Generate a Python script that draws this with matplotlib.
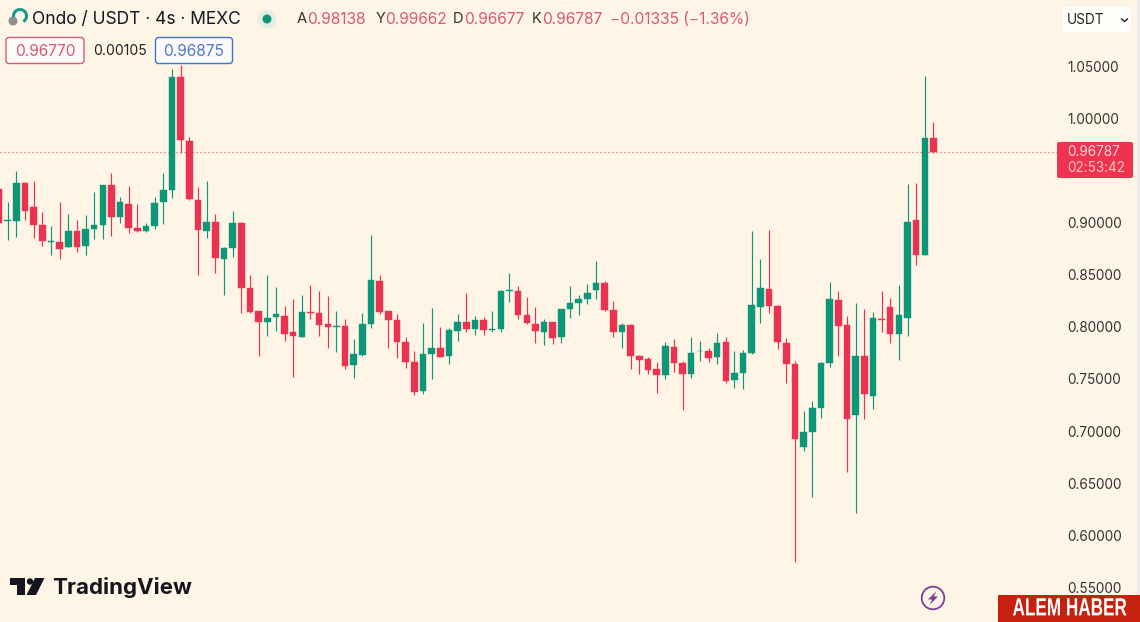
import matplotlib
matplotlib.use('Agg')
import matplotlib.pyplot as plt
from matplotlib.patches import Rectangle, FancyBboxPatch, Circle, Polygon, Arc
from matplotlib.patheffects import AbstractPathEffect
from matplotlib.transforms import Affine2D

W, H = 1140, 622

opens = [.9318,.9010,.9014,.9375,.9145,.8976,.8812,.8816,.8768,.8918,.8774,.8934,.8972,.9356,.9049,.9177,.8944,.8921,.8969,.9196,
         .9308,1.0392,.9778,.9215,.8921,.9008,.8653,.8752,.8998,.8375,.8151,.8046,.8097,.8100,.7950,.7905,.8139,.8129,.8024,.8000,
         .8004,.7631,.7730,.8030,.8442,.8148,.8062,.7854,.7665,.7384,.7742,.7796,.7716,.7956,.8042,.7975,.8065,.7969,.7975,.8346,
         .8343,.8116,.8030,.7950,.8042,.7902,.8167,.8225,.8263,.8352,.8419,.8160,.7953,.8020,.7723,.7688,.7595,.7537,.7806,.7649,
         .7550,.7764,.7767,.7707,.7854,.7492,.7556,.7745,.8190,.8359,.8202,.7847,.7643,.6850,.6988,.7224,.7650,.8257,.8017,.7151,
         .7720,.7336,.8074,.8192,.7931,.8087,.9021,.8691,.98138]
highs = [.9350,.9199,.9497,.9391,.9401,.9097,.8966,.9199,.9081,.9024,.9072,.9295,.9359,.9471,.9247,.9350,.9177,.8998,.9241,.9478,
         1.0471,1.0510,.9816,.9337,.9398,.9078,.8768,.9110,.9008,.8496,.8154,.8496,.8385,.8199,.8263,.8305,.8401,.8346,.8299,.8154,
         .8071,.7883,.8129,.8880,.8496,.8154,.8119,.7899,.7771,.8039,.8177,.7995,.7991,.8122,.8320,.8103,.8091,.8154,.8352,.8512,
         .8391,.8288,.8186,.8074,.8046,.8167,.8394,.8305,.8407,.8627,.8442,.8244,.8039,.8023,.7726,.7713,.7665,.7857,.7883,.7672,
         .7899,.7860,.7800,.7937,.7905,.7771,.7777,.8921,.8646,.8928,.8209,.7892,.7675,.7195,.7291,.7665,.8426,.8343,.8103,.8225,
         .8173,.8144,.8346,.8273,.8400,.9366,.9376,1.0407,.99662]
lows = [.8998,.8832,.8864,.9024,.8848,.8778,.8691,.8647,.8760,.8720,.8688,.8838,.8838,.8870,.8998,.8896,.8912,.8912,.8934,.8985,
        .9231,.9669,.9215,.8496,.8848,.8512,.8305,.8672,.8132,.8136,.7720,.7915,.7960,.7864,.7522,.7902,.8071,.7915,.7800,.7758,
        .7595,.7509,.7720,.7991,.8119,.7800,.7697,.7608,.7346,.7352,.7499,.7707,.7640,.7864,.7947,.7921,.7924,.7947,.7947,.8240,
        .8078,.8030,.7847,.7822,.7838,.7847,.8081,.8116,.8222,.8263,.8154,.7899,.7793,.7595,.7547,.7550,.7362,.7499,.7569,.7202,
        .7512,.7675,.7659,.7643,.7464,.7415,.7400,.7739,.8039,.8129,.7787,.7461,.5747,.6809,.6365,.7128,.7611,.7720,.6610,.6217,
        .7113,.7212,.7953,.7841,.7681,.7914,.8592,.8685,.96677]
closes = [.8998,.9020,.9382,.9113,.8972,.8822,.8820,.8742,.8918,.8765,.8937,.8976,.9359,.9049,.9196,.8944,.8921,.8969,.9183,.9308,
          1.0392,.9791,.9222,.8928,.9008,.8659,.8752,.8992,.8375,.8145,.8049,.8084,.8122,.7934,.7912,.8139,.8132,.8020,.7995,.8004,
          .7627,.7736,.8024,.8445,.8139,.8062,.7851,.7659,.7374,.7742,.7793,.7713,.7966,.8042,.7975,.8065,.7966,.7975,.8339,.8349,
          .8116,.8036,.7956,.8046,.7889,.8167,.8225,.8266,.8320,.8416,.8157,.7953,.8017,.7720,.7685,.7585,.7537,.7816,.7649,.7550,
          .7752,.7771,.7704,.7847,.7483,.7553,.7748,.8209,.8375,.8202,.7851,.7643,.6921,.6988,.7224,.7655,.8266,.8010,.7113,.7720,
          .7352,.8081,.8067,.7931,.8113,.9002,.8691,.9810,.96787]

price_ticks = [1.05, 1.00, 0.90, 0.85, 0.80, 0.75, 0.70, 0.65, 0.60, 0.55]
last_price = 0.96787

BG = '#fff5e6'
GREEN = '#0e9679'
RED = '#ea3350'
plt.rcParams['font.family'] = ['Inter', 'DejaVu Sans']

fig = plt.figure(figsize=(W / 100, H / 100), dpi=100, facecolor=BG)
ax = fig.add_axes([0, 0, 1, 1], facecolor=BG)

idx = list(range(len(opens)))
colors = [GREEN if c >= o else RED for o, c in zip(opens, closes)]
ax.axhline(last_price, xmax=1057 / W, color='#dc6470', lw=0.9, ls=(0, (1, 2.2)), zorder=1)
ax.vlines(idx, lows, highs, colors=colors, lw=0.85, zorder=2)
ax.bar(idx, [abs(c - o) for o, c in zip(opens, closes)], bottom=[min(o, c) for o, c in zip(opens, closes)],
       width=0.76, color=colors, edgecolor=colors, linewidth=0.3, zorder=3)

ax.set_xlim(0.1156, 131.87)
ax.set_ylim(0.5169, 1.1133)
ax.set_yticks(price_ticks)
ax.set_yticklabels([f'{p:.5f}' for p in price_ticks], fontsize=9.8, color='#333333')
ax.tick_params(axis='y', length=0, pad=-52.2, left=False, labelleft=False, right=False, labelright=True)
ax.set_xticks([])
for s in ax.spines.values():
    s.set_visible(False)

# everything below is chart furniture, placed in screen pixels
px = Affine2D().scale(1 / W, -1 / H).translate(0, 1) + fig.transFigure


def txt(x, y, s, size=11.2, color='#222222', ha='left', **kw):
    return fig.text(x / W, 1 - y / H, s, fontsize=size, color=color, ha=ha, va='center', **kw)


def box(x0, y0, x1, y1, face, edge='none', lw=1.0, r=3):
    p = FancyBboxPatch((x0, y0), x1 - x0, y1 - y0, boxstyle=f'round,pad=0,rounding_size={r}',
                       fc=face, ec=edge, lw=lw, transform=px)
    fig.add_artist(p)


class Squeeze(AbstractPathEffect):
    # no condensed face installed, so stretch the glyphs about a pixel point
    def __init__(self, cx, cy, sx, sy):
        super().__init__()
        self.t = Affine2D().translate(-cx, -cy).scale(sx, sy).translate(cx, cy)

    def draw_path(self, renderer, gc, tpath, affine, rgbFace=None):
        renderer.draw_path(gc, tpath, affine + self.t, rgbFace)


# right edge of the screenshot
fig.add_artist(Rectangle((1137, 0), 3, 595, fc='#eeebe6', ec='none', transform=px))

# header
fig.add_artist(Circle((13, 21), 4.5, fc='#8f8f8f', ec='none', transform=px))
fig.add_artist(Arc((20, 16), 13, 13, theta1=170, theta2=60, ec='#1a9a8c', lw=2.2, transform=px))
txt(32, 19, 'Ondo / USDT · 4s · MEXC', size=12.5, color='#131722')
fig.add_artist(Circle((267, 19), 9.5, fc='#e6efe3', ec='none', transform=px))
fig.add_artist(Circle((267, 19), 4.5, fc='#0e9679', ec='none', transform=px))
LEG_RED = '#d65a72'
txt(296.5, 19, 'A', color='#333333', size=10.6)
txt(307, 19, '0.98138', color=LEG_RED)
txt(375.5, 19, 'Y', color='#333333', size=10.6)
txt(385.5, 19, '0.99662', color=LEG_RED)
txt(452.5, 19, 'D', color='#333333', size=10.6)
txt(464.5, 19, '0.96677', color=LEG_RED)
txt(531.5, 19, 'K', color='#333333', size=10.6)
txt(542, 19, '0.96787', color=LEG_RED)
txt(609.5, 19, '−0.01335 (−1.36%)', color=LEG_RED)

# bid / ask
box(6, 37.5, 84, 63.5, '#fffafa', edge='#dc5a72')
txt(45, 51, '0.96770', ha='center', color=LEG_RED)
txt(119.5, 51, '0.00105', ha='center', size=10, color='#222222')
box(155.5, 37.5, 232.5, 63.5, '#fdfbfa', edge='#3f74cf')
txt(194, 51, '0.96875', ha='center', color='#4a78cc')

# currency selector and last price label
box(1062, 6, 1132, 33, '#fffdfa', edge='#f3efe8', lw=0.6)
txt(1067, 20, 'USDT', size=9.8, color='#222222')
fig.add_artist(Polygon([(1121, 18.5), (1124.5, 21.5), (1128, 18.5)], closed=False, fill=False, ec='#222222',
                       lw=1.0, transform=px))
box(1057, 142, 1133, 178, '#ee3350', r=2)
txt(1067, 152, '0.96787', size=9.8, color='#ffdcdc')
txt(1067, 168, '02:53:42', size=9.8, color='#ffc4c8')

# TradingView logo
DARK = '#15151f'
fig.add_artist(Polygon([(10, 578), (25, 578), (25, 595), (17, 595), (17, 585), (10, 585)], fc=DARK, ec='none', transform=px))
fig.add_artist(Circle((30, 581.5), 3.2, fc=DARK, ec='none', transform=px))
fig.add_artist(Polygon([(35, 578), (44.5, 578), (36, 595), (26.5, 595)], fc=DARK, ec='none', transform=px))
txt(52.5, 587.5, 'TradingView', size=16, color=DARK, fontweight='bold')

# lightning button
fig.add_artist(Circle((933, 598), 11.3, fc='none', ec='#7b3f98', lw=1.3, transform=px))
fig.add_artist(Polygon([(936.5, 591), (928, 599.5), (932.2, 599.5), (929.5, 605), (938, 596.5), (933.8, 596.5)],
                       fc='#7b3f98', ec='none', transform=px))

# watermark
fig.add_artist(Rectangle((998, 595), 142, 27, fc='#c8200f', ec='none', transform=px))
mark = txt(1069.5, 609, 'ALEM HABER', size=12.6, color='#ffffff', ha='center', fontweight='bold',
           family=['Liberation Sans', 'DejaVu Sans'])
mark.set_path_effects([Squeeze(1069.5, 622 - 609, 0.98, 1.42)])

fig.savefig('out.png', dpi=100, facecolor=BG)
